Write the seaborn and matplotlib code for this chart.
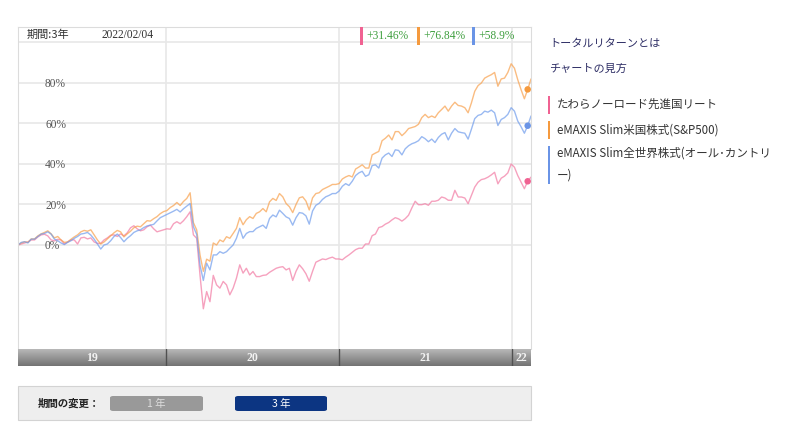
import numpy as np
import pandas as pd
import matplotlib
matplotlib.use("Agg")
import matplotlib.pyplot as plt
import seaborn as sns
from matplotlib.patches import Rectangle, FancyBboxPatch

# データ（週次トータルリターン %）
dates = pd.date_range("2019-02-22", periods=156, freq="7D")
year_starts = pd.to_datetime(["2020-01-01", "2021-01-01", "2022-01-01"])
year_labels = ["19", "20", "21", "22"]
base_date = "2022/02/04"
last_date = pd.Timestamp("2022-02-04")

funds = ["たわらノーロード先進国リート",
         "eMAXIS Slim米国株式(S&P500)",
         "eMAXIS Slim全世界株式(オール･カントリー)"]
fund_labels = ["たわらノーロード先進国リート",
               "eMAXIS Slim米国株式(S&P500)",
               "eMAXIS Slim全世界株式(オール･カントリ\nー)"]
final_returns = ["+31.46%", "+76.84%", "+58.9%"]

ret_reit = [0, 0.5, 1.0, 1.5, 2.5, 2.5, 4.0, 5.0, 5.3, 4.5, 2.5, 2.0, 2.8, 2.5, 0.5, 1.5, 2.5, 2.5, 0.5, 3.5,
            3.8, 3.0, 3.5, 1.5, 0.8, 0.8, 2.5, 3.5, 4.8, 5.0, 4.2, 5.5, 4.5, 6.0, 8.5, 9.5, 8.0, 7.0, 7.5, 9.0,
            9.8, 8.0, 6.5, 7.0, 7.5, 8.0, 7.8, 10.5, 11.5, 10.5, 12.0, 14.0, 16.4,
            5.0, 3.3, -15.0, -31.5, -23.0, -28.0, -15.0, -19.7, -21.3, -18.0, -19.7, -24.6, -21.3, -16.4, -9.8,
            -13.9, -11.5, -14.8, -13.1, -15.6, -15.6, -15.0, -14.8, -13.5, -12.5, -11.5, -11.0, -10.7, -12.3, -11.5,
            -17.5, -13.0, -9.8, -11.7, -14.2, -17.9, -13.0, -8.5, -7.7, -6.9, -7.2, -6.5, -6.0, -6.9, -6.9, -7.3,
            -6.0, -4.9, -3.6, -2.3, -1.6, -1.6, 0.5, 0.5, 4.6, 5.4, 8.6, 9.1, 10.3, 11.1, 12.4, 13.5, 12.9, 11.8,
            13.0, 14.7,
            18.3, 21.6, 19.9, 19.9, 20.4, 19.6, 21.6, 21.6, 22.1, 23.7, 23.2, 22.1, 22.1, 27.0, 23.7, 23.7, 23.2,
            20.4, 24.5, 28.6, 31.0, 32.3, 32.7, 33.5, 34.6, 35.9, 30.2, 33.0, 34.0, 35.6, 40.0, 38.4, 34.3, 31.0,
            27.8, 31.46, 33.5]

ret_sp500 = [0, 1.0, 1.6, 1.3, 3.0, 3.0, 4.5, 5.5, 6.2, 7.0, 5.5, 3.5, 4.2, 2.5, 1.3, 1.5, 2.8, 4.0, 5.0, 6.5,
             7.2, 6.8, 7.5, 5.0, 2.5, 0.5, 1.5, 3.0, 4.5, 6.0, 7.2, 6.5, 4.0, 5.5, 6.8, 8.5, 9.3, 9.0, 10.5, 12.0,
             11.8, 13.0, 14.0, 15.5, 16.5, 17.0, 18.5, 19.5, 21.0, 19.5, 21.5, 23.0, 25.8,
             11.0, 7.4, -5.0, -13.0, -7.0, -8.0, 1.0, 0.0, 2.5, 1.6, 4.1, 3.3, 5.7, 8.2, 13.5, 10.0, 12.5, 14.0,
             13.1, 15.6, 16.4, 18.0, 16.4, 21.3, 23.0, 22.0, 25.4, 23.8, 20.5, 18.9,
             16.0, 20.0, 23.3, 23.8, 21.7, 17.3, 23.3, 25.4, 25.8, 27.4, 28.2, 29.0, 29.9, 29.9, 30.3, 32.6, 33.6,
             34.3, 33.6, 37.5, 38.5, 39.6, 38.0, 38.0, 44.5, 45.4, 46.2, 51.5, 52.7, 54.3, 51.9, 56.0, 56.0, 54.0,
             55.5, 57.5,
             58.0, 58.5, 59.6, 62.9, 64.5, 62.9, 63.7, 62.9, 65.3, 66.9, 68.6, 66.1, 68.6, 70.5, 68.9, 68.6, 67.8,
             65.3, 70.2, 75.9, 78.7, 80.0, 82.4, 83.3, 84.1, 85.2, 78.4, 82.0, 82.4, 85.2, 89.5, 87.3, 81.6, 76.7,
             72.2, 76.84, 82.0]

ret_acwi = [0, 1.3, 1.6, 1.0, 2.9, 2.9, 4.2, 5.4, 5.7, 6.5, 5.4, 2.9, 2.1, 1.0, 0.2, 1.3, 2.1, 3.3, 4.2, 5.4,
            5.7, 6.2, 4.9, 2.9, 0.5, -2.0, 0.0, 0.5, 2.1, 4.2, 5.4, 3.7, 1.6, 3.3, 4.6, 6.2, 7.0, 7.5, 8.6, 9.4,
            9.8, 10.2, 11.9, 13.5, 14.3, 15.1, 15.9, 16.7, 17.6, 16.3, 17.9, 19.2, 20.5,
            9.0, 5.2, -10.0, -17.5, -9.0, -12.3, -4.9, -4.9, -3.3, -4.1, -3.3, -1.6, 0.0, 3.3, 8.2, 3.3, 5.7, 6.6,
            6.6, 8.2, 9.0, 9.8, 8.2, 13.1, 14.8, 13.9, 17.2, 15.6, 13.9, 13.1,
            9.8, 13.5, 16.0, 15.7, 14.4, 10.3, 16.8, 19.6, 20.6, 22.5, 23.8, 24.5, 25.4, 25.4, 26.6, 29.0, 30.3,
            29.4, 31.5, 34.3, 35.6, 36.4, 33.9, 34.7, 39.2, 39.6, 38.0, 42.9, 44.5, 45.4, 43.7, 47.0, 46.7, 44.5,
            47.5, 49.0,
            50.0, 50.6, 51.5, 53.5, 52.5, 51.0, 52.3, 50.6, 53.1, 54.7, 55.5, 51.9, 55.2, 57.5, 55.9, 55.5, 55.2,
            52.3, 57.2, 62.4, 64.0, 64.5, 66.1, 65.6, 66.6, 65.3, 59.0, 62.0, 62.9, 64.5, 67.8, 66.1, 61.2, 58.4,
            55.2, 58.9, 63.7]

line_colors = ["#f27aa3", "#f8a04c", "#6f9cec"]
bar_colors = ["#f06292", "#f59a3e", "#6a94e6"]

df = pd.DataFrame({"date": np.tile(dates, 3),
                   "ret": ret_reit + ret_sp500 + ret_acwi,
                   "fund": np.repeat(funds, len(dates))})

sns.set_style("white")
plt.rcParams["font.family"] = ["Noto Sans CJK JP", "DejaVu Sans"]

W, H = 800, 436
fig = plt.figure(figsize=(W / 100, H / 100), dpi=100)


def px_rect(x0, y0, x1, y1):
    return [x0 / W, 1 - y1 / H, (x1 - x0) / W, (y1 - y0) / H]


def fx(x):
    return x / W


def fy(y):
    return 1 - y / H


# メインチャート
ax = fig.add_axes(px_rect(18, 27, 531, 349))
sns.lineplot(data=df, x="date", y="ret", hue="fund", hue_order=funds, palette=line_colors,
             ax=ax, legend=False, linewidth=1.0, alpha=0.7)
last = df[df["date"] == last_date]
sns.scatterplot(data=last, x="date", y="ret", hue="fund", hue_order=funds, palette=bar_colors,
                ax=ax, legend=False, s=22, edgecolor="none", zorder=5)

ax.set_xlim(dates[0], dates[-1])
ax.set_ylim(-51.36, 107.65)
ax.set_yticks([0, 20, 40, 60, 80, 100])
ax.set_yticklabels(["0%", "20%", "40%", "60%", "80%", ""])
ax.set_xticks(year_starts)
ax.set_xticklabels([])
ax.grid(True, color="#e8e8e8", linewidth=1.2)
ax.set_axisbelow(True)
ax.tick_params(axis="both", length=0)
ax.tick_params(axis="y", pad=-19.5, labelsize=8.3, labelcolor="#555555")
for lab in ax.get_yticklabels():
    lab.set_horizontalalignment("left")
    lab.set_fontfamily("Liberation Serif")
ax.set_xlabel("")
ax.set_ylabel("")
for side in ["left", "top", "right"]:
    ax.spines[side].set_color("#dcdcdc")
ax.spines["bottom"].set_visible(False)

# 年の帯
bx = fig.add_axes(px_rect(18, 349, 531, 366))
grad = np.linspace(0.72, 0.45, 50).reshape(-1, 1)
bx.imshow(grad, extent=[0, 1, 0, 1], transform=bx.transAxes, aspect="auto",
          cmap="gray", vmin=0, vmax=1)
bx.set_xlim(dates[0], dates[-1])
bx.set_ylim(0, 1)
for d in year_starts:
    bx.axvline(d, color="#505050", linewidth=1)
bounds = [dates[0]] + list(year_starts) + [dates[-1]]
for i, lab in enumerate(year_labels):
    mid = bounds[i] + (bounds[i + 1] - bounds[i]) / 2
    bx.text(mid, 0.45, lab, ha="center", va="center", color="#f2f2f2",
            fontsize=8.5, fontfamily="Liberation Serif", fontweight="bold")
bx.set_xticks([])
bx.set_yticks([])
for s in bx.spines.values():
    s.set_visible(False)

# ヘッダー
fig.text(fx(27), fy(35), "期間:3年", fontsize=8, color="#333333", va="center")
fig.text(fx(101), fy(35), base_date, fontsize=8.3, color="#333333", va="center",
         fontfamily="Liberation Serif")
for xb, col, txt in zip([360, 417, 472], bar_colors, final_returns):
    fig.add_artist(Rectangle((fx(xb), fy(45)), 3 / W, 18 / H, transform=fig.transFigure,
                             facecolor=col, edgecolor="none"))
    fig.text(fx(xb + 6), fy(36), txt, fontsize=8.3, color="#3f9f3f", va="center",
             fontfamily="Liberation Serif")

# 右側パネル
fig.text(fx(549), fy(44), "トータルリターンとは", fontsize=8, color="#2f2f66", va="center")
fig.text(fx(549), fy(69), "チャートの見方", fontsize=8, color="#2f2f66", va="center")
for (y0, y1), col, lab, ty in zip([(96, 114), (121, 139), (146, 184)], bar_colors, fund_labels,
                                  [104, 130, 155]):
    fig.add_artist(Rectangle((fx(548), fy(y1)), 2 / W, (y1 - y0) / H, transform=fig.transFigure,
                             facecolor=col, edgecolor="none"))
    if "\n" in lab:
        fig.text(fx(557), fy(ty - 8), lab, fontsize=8.3, color="#333333", va="top",
                 linespacing=1.9)
    else:
        fig.text(fx(557), fy(ty), lab, fontsize=8.3, color="#333333", va="center")

# 期間の変更
fig.add_artist(Rectangle((fx(18), fy(420)), 513 / W, 34 / H, transform=fig.transFigure,
                         facecolor="#eeeeee", edgecolor="#d3d3d3", linewidth=0.8))
fig.text(fx(38), fy(404), "期間の変更：", fontsize=7.5, color="#222222", va="center",
         fontweight="bold")
fig.add_artist(FancyBboxPatch((fx(110), fy(411)), 93 / W, 15 / H, transform=fig.transFigure,
                              boxstyle="round,pad=0,rounding_size=0.004",
                              facecolor="#999999", edgecolor="none"))
fig.text(fx(156), fy(404), "1 年", fontsize=7.5, color="#dddddd", va="center", ha="center")
fig.add_artist(FancyBboxPatch((fx(235), fy(411)), 92 / W, 15 / H, transform=fig.transFigure,
                              boxstyle="round,pad=0,rounding_size=0.004",
                              facecolor="#0c3582", edgecolor="none"))
fig.text(fx(281), fy(404), "3 年", fontsize=7.5, color="#ffffff", va="center", ha="center")

fig.savefig("out.png", dpi=100)
